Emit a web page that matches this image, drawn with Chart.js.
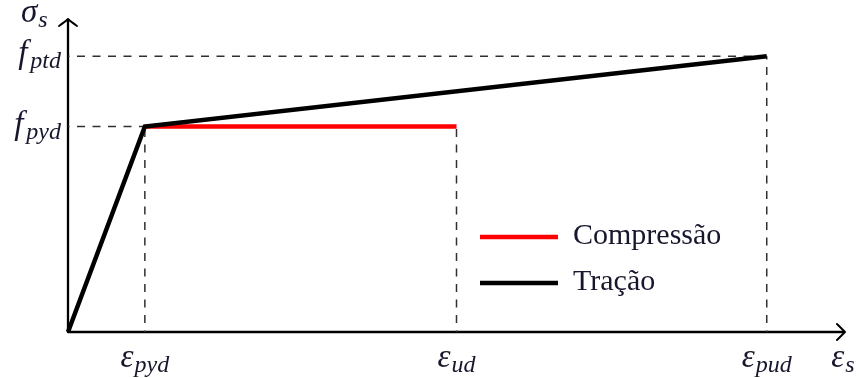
<!DOCTYPE html>
<html><head><meta charset="utf-8">
<script src="https://cdn.jsdelivr.net/npm/chart.js@4.4.1/dist/chart.umd.min.js"></script>
<style>html,body{margin:0;padding:0;background:#fff}canvas{display:block}</style>
</head><body>
<canvas id="c" width="859" height="378"></canvas>
<script>
// Bilinear design stress–strain diagram of prestressing steel
const strainSubs = ['pyd', 'ud', 'pud'];          // subscripts of ε on the strain axis
const strainValues = [1.1, 5.56, 10.0];            // ε_pyd, ε_ud, ε_pud
const strainGuideTop = [0.745, 0.745, 1.0];        // stress reached at each marked strain
const stressSubs = ['pyd', 'ptd'];                 // subscripts of f on the stress axis
const stressValues = [0.745, 1.0];                 // f_pyd, f_ptd
const stressGuideEnd = [1.1, 10.0];                // strain where each stress level is reached
const tracaoStrain = [0, 1.1, 10.0];
const tracaoStress = [0, 0.745, 1.0];
const compressaoStrain = [1.1, 5.56];
const compressaoStress = [0.745, 0.745];
const seriesNames = ['Compressão', 'Tração'];
const strainMax = 11.12;
const stressMax = 1.135;

const INK = '#16162c';
const pts = (xs, ys) => xs.map((x, i) => ({ x, y: ys[i] }));

const guides = [];
strainValues.forEach((v, i) => guides.push({ data: [{ x: v, y: 0 }, { x: v, y: strainGuideTop[i] }] }));
stressValues.forEach((v, i) => guides.push({ data: [{ x: 0, y: v }, { x: stressGuideEnd[i], y: v }] }));

const datasets = [
  { label: seriesNames[1], data: pts(tracaoStrain, tracaoStress), borderColor: '#000', borderWidth: 4.5, order: 0, legend: true },
  { label: seriesNames[0], data: pts(compressaoStrain, compressaoStress), borderColor: '#ff0000', borderWidth: 4.5, order: 1, legend: true },
  ...guides.map(g => ({ label: '', data: g.data, borderColor: '#303030', borderWidth: 1.5, borderDash: [8, 7.5], borderDashOffset: -9, order: 2 }))
].map(d => Object.assign({ showLine: true, pointRadius: 0, fill: false, clip: false, tension: 0, borderCapStyle: 'butt' }, d));

// math label: italic base symbol with a lowered subscript
function mathText(ctx, base, sub, x, y, align) {
  const fb = 'italic 33px "Liberation Serif", "DejaVu Serif", serif';
  const fs = 'italic 24px "Liberation Serif", "DejaVu Serif", serif';
  ctx.font = fb; const wb = ctx.measureText(base).width;
  ctx.font = fs; const ws = ctx.measureText(sub).width;
  const gap = base === 'f' ? 3 : 1;
  const w = wb + gap + ws;
  let x0 = x;
  if (align === 'center') x0 = x - w / 2;
  else if (align === 'right') x0 = x - w;
  ctx.fillStyle = INK; ctx.textAlign = 'left'; ctx.textBaseline = 'alphabetic';
  ctx.font = fb; ctx.fillText(base, x0, y);
  ctx.font = fs; ctx.fillText(sub, x0 + wb + gap, y + 5);
}

function arrowHead(ctx, x, y, dx, dy, back, half) {
  // open, slightly curved arrow tip pointing along (dx, dy)
  const px = -dy, py = dx;
  ctx.beginPath();
  ctx.moveTo(x - dx * back + px * half, y - dy * back + py * half);
  ctx.quadraticCurveTo(x - dx * 2 + px * 2, y - dy * 2 + py * 2, x, y);
  ctx.quadraticCurveTo(x - dx * 2 - px * 2, y - dy * 2 - py * 2, x - dx * back - px * half, y - dy * back - py * half);
  ctx.stroke();
}

const diagram = {
  id: 'diagram',
  beforeDatasetsDraw(chart) {
    const { ctx, scales: { x, y } } = chart;
    const x0 = x.getPixelForValue(0), y0 = y.getPixelForValue(0);
    const xe = x.getPixelForValue(strainMax), ye = y.getPixelForValue(stressMax);
    ctx.save();
    ctx.strokeStyle = '#000'; ctx.lineWidth = 2.3; ctx.lineCap = 'round'; ctx.lineJoin = 'round';
    ctx.beginPath(); ctx.moveTo(x0, y0); ctx.lineTo(xe - 1, y0); ctx.stroke();
    ctx.beginPath(); ctx.moveTo(x0, y0); ctx.lineTo(x0, ye + 1); ctx.stroke();
    ctx.lineWidth = 2;
    arrowHead(ctx, xe, y0, 1, 0, 8, 8);
    arrowHead(ctx, x0, ye, 0, -1, 7, 9);
    ctx.restore();
  },
  afterDraw(chart) {
    const { ctx, scales: { x, y } } = chart;
    const x0 = x.getPixelForValue(0), y0 = y.getPixelForValue(0);
    ctx.save();
    strainValues.forEach((v, i) => mathText(ctx, 'ε', strainSubs[i], x.getPixelForValue(v), y0 + 35, 'center'));
    mathText(ctx, 'ε', 's', x.getPixelForValue(strainMax) - 2, y0 + 35, 'center');
    stressValues.forEach((v, i) => mathText(ctx, 'f', stressSubs[i], x0 - 7, y.getPixelForValue(v) + 7, 'right'));
    mathText(ctx, 'σ', 's', x0 - 47, y.getPixelForValue(stressMax) + 3, 'left');

    // legend
    const items = chart.data.datasets.filter(d => d.legend).sort((a, b) => b.order - a.order);
    items.forEach((d, i) => {
      const ly = 237 + i * 46;
      ctx.strokeStyle = d.borderColor; ctx.lineWidth = 4.5; ctx.lineCap = 'butt';
      ctx.beginPath(); ctx.moveTo(480, ly); ctx.lineTo(558, ly); ctx.stroke();
      ctx.fillStyle = INK; ctx.font = '30px "Liberation Serif", "DejaVu Serif", serif';
      ctx.textAlign = 'left'; ctx.textBaseline = 'alphabetic';
      ctx.fillText(d.label, 573, ly + 7);
    });
    ctx.restore();
  }
};

new Chart(document.getElementById('c'), {
  type: 'scatter',
  data: { datasets },
  options: {
    responsive: false,
    devicePixelRatio: 1,
    animation: false,
    layout: { padding: { left: 68, right: 14, top: 19, bottom: 46 } },
    scales: {
      x: { type: 'linear', min: 0, max: strainMax, display: false },
      y: { type: 'linear', min: 0, max: stressMax, display: false }
    },
    plugins: { legend: { display: false }, tooltip: { enabled: false } }
  },
  plugins: [diagram]
});
</script>
</body></html>
